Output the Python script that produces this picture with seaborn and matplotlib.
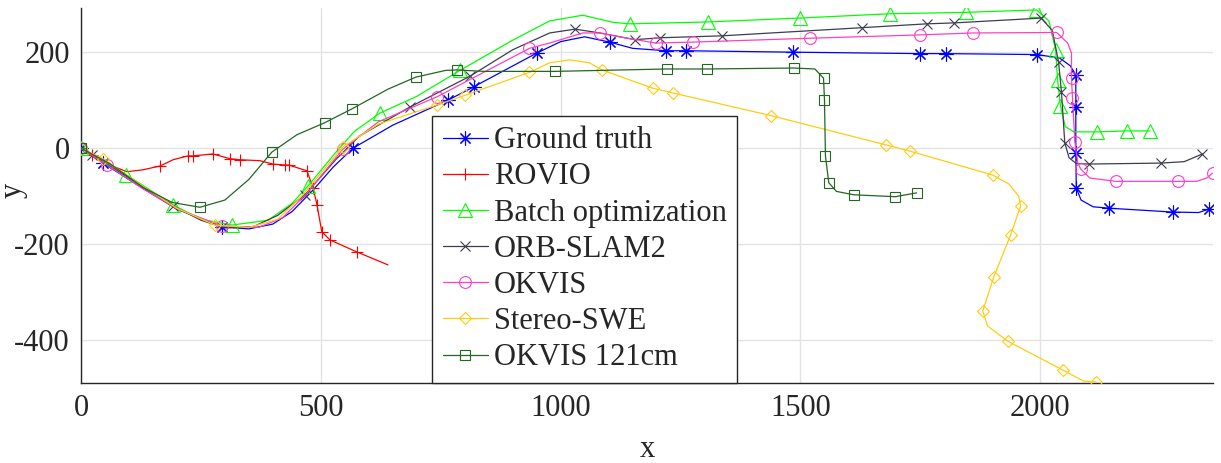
"""
Trajectory comparison (top view)
"""

import numpy as np
import pandas as pd
import matplotlib
matplotlib.use("Agg")
import matplotlib.pyplot as plt
import seaborn as sns

# path vertices (x, y) and indices of vertices that carry a marker
gt_x = [0, 46, 120, 200, 294, 350, 400, 440, 484, 526, 567, 650, 765, 819, 950, 1000, 1050, 1102, 1150, 1219, 1261,
        1484, 1749, 1803, 1993, 2040, 2062, 2074, 2074, 2074, 2075, 2085, 2110, 2144, 2276, 2330, 2351]
gt_y = [0, -31, -78, -127, -164, -168, -158, -132, -87, -39, 0, 48, 100, 128, 198, 222, 232, 221, 208, 203, 203,
        200, 197, 197, 195, 188, 172, 153, 86, -10, -83, -108, -122, -125, -133, -134, -127]
gt_mk = [0, 1, 4, 10, 12, 13, 14, 17, 19, 20, 21, 22, 23, 24, 27, 28, 29, 30, 33, 34, 36]

rovio_x = [0, 23, 60, 96, 129, 165, 192, 223, 233, 275, 311, 331, 373, 400, 425, 433, 471, 484, 492, 502, 519,
           575, 640]
rovio_y = [0, -14, -35, -49, -45, -37, -24, -16, -16, -12, -22, -24, -26, -33, -35, -35, -47, -83, -118, -174, -191,
           -216, -243]
rovio_mk = [1, 5, 7, 8, 9, 10, 11, 13, 14, 15, 16, 17, 18, 19, 20, 21]

batch_x = [0, 94, 192, 250, 315, 390, 440, 473, 530, 570, 623, 700, 790, 900, 977, 1046, 1110, 1144, 1307, 1498,
           1686, 1846, 1992, 2018, 2032, 2036, 2042, 2052, 2070, 2119, 2180, 2228]
batch_y = [0, -55, -118, -148, -160, -150, -115, -79, -10, 35, 73, 108, 162, 225, 265, 277, 262, 259, 263, 271,
           280, 283, 288, 265, 204, 142, 88, 45, 34, 34, 36, 36]
batch_mk = [0, 1, 2, 4, 7, 10, 12, 17, 18, 19, 20, 21, 22, 24, 25, 26, 29, 30, 31]

orb_x = [0, 23, 100, 192, 250, 300, 360, 410, 467, 530, 580, 686, 811, 900, 977, 1030, 1082, 1155, 1207, 1336,
         1628, 1763, 1821, 2002, 2025, 2038, 2044, 2051, 2060, 2075, 2101, 2251, 2300, 2338]
orb_y = [0, -14, -62, -120, -150, -166, -163, -140, -97, -25, 25, 86, 150, 205, 240, 248, 240, 226, 230, 234,
         251, 259, 261, 271, 245, 180, 118, 11, -20, -32, -33, -31, -28, -12]
orb_mk = [0, 1, 3, 8, 11, 12, 15, 17, 18, 19, 20, 21, 22, 23, 25, 26, 27, 30, 31, 33]

okvis_x = [0, 54, 130, 200, 294, 370, 420, 470, 546, 620, 742, 935, 977, 1046, 1082, 1117, 1198, 1276, 1519,
           1749, 1859, 2034, 2057, 2065, 2065, 2067, 2072, 2078, 2084, 2103, 2157, 2286, 2326, 2347, 2359]
okvis_y = [0, -35, -85, -126, -162, -165, -145, -95, -2, 55, 107, 208, 219, 240, 240, 233, 219, 221, 229,
           236, 240, 241, 219, 198, 146, 105, 13, -30, -43, -62, -69, -69, -69, -62, -52]
okvis_mk = [0, 1, 4, 8, 10, 11, 14, 16, 17, 18, 19, 20, 21, 24, 25, 26, 28, 30, 31, 34]

swe_x = [0, 46, 130, 200, 279, 350, 410, 460, 546, 620, 742, 800, 935, 977, 1019, 1060, 1086, 1192, 1234, 1438,
         1678, 1728, 1901, 1935, 1955, 1959, 1938, 1903, 1880, 1890, 1932, 2047, 2090, 2117]
swe_y = [0, -22, -80, -125, -160, -165, -148, -100, 3, 50, 90, 110, 158, 178, 184, 178, 163, 125, 115, 68,
         7, -6, -56, -75, -100, -120, -181, -268, -339, -370, -402, -462, -485, -487]
swe_mk = [0, 1, 4, 8, 10, 11, 12, 16, 17, 18, 19, 20, 21, 22, 25, 26, 27, 28, 30, 31, 33]

ok121_x = [0, 60, 130, 190, 248, 300, 350, 398, 450, 508, 565, 640, 698, 760, 784, 840, 988, 1221, 1305, 1486,
           1530, 1548, 1550, 1552, 1559, 1575, 1611, 1698, 1742]
ok121_y = [0, -32, -82, -113, -123, -108, -65, -8, 28, 53, 82, 123, 148, 162, 163, 160, 160, 165, 165, 167,
           165, 146, 101, -16, -72, -90, -97, -101, -93]
ok121_mk = [0, 4, 7, 9, 10, 12, 14, 16, 17, 18, 19, 21, 22, 23, 24, 26, 27, 28]

series = [
    ("Ground truth", gt_x, gt_y, gt_mk, "#0000ff", (8, 2, 0), 10),
    ("ROVIO", rovio_x, rovio_y, rovio_mk, "#ff0000", "+", 8.5),
    ("Batch optimization", batch_x, batch_y, batch_mk, "#00ff00", "^", 9.5),
    ("ORB-SLAM2", orb_x, orb_y, orb_mk, "#3c3c52", "x", 7),
    ("OKVIS", okvis_x, okvis_y, okvis_mk, "#ff3fbf", "o", 8.5),
    ("Stereo-SWE", swe_x, swe_y, swe_mk, "#ffcc11", "D", 6.2),
    ("OKVIS 121cm", ok121_x, ok121_y, ok121_mk, "#226622", "s", 7.2),
]

sns.set_style("white")
plt.rcParams["font.family"] = ["Liberation Serif", "DejaVu Serif"]
plt.rcParams["axes.unicode_minus"] = False

fig = plt.figure(figsize=(12.21, 4.63), dpi=100)
ax = fig.add_axes([81 / 1221, 1 - 383 / 463, 1132 / 1221, 375 / 463])

for i, (label, xs, ys, mk, color, marker, ms) in enumerate(series):
    df = pd.DataFrame({"x": xs, "y": ys})
    sns.lineplot(data=df, x="x", y="y", sort=False, estimator=None, ax=ax,
                 color=color, lw=0.9, marker=marker, markevery=mk, ms=ms,
                 mfc="none", mec=color, mew=0.8, label=label, zorder=3 + i)

ax.set_xlim(0, 2360)
ax.set_ylim(-489, 292)
ax.set_xticks([0, 500, 1000, 1500, 2000])
ax.set_yticks([-400, -200, 0, 200])
ax.grid(True, color="#e3e3e3", lw=1.0)
ax.set_axisbelow(True)
for s in ["top", "right"]:
    ax.spines[s].set_visible(False)
for s in ["left", "bottom"]:
    ax.spines[s].set_color("#262626")
    ax.spines[s].set_linewidth(1.0)
ax.tick_params(direction="in", length=8.4, width=0.9, color="#262626",
               labelsize=22, pad=8, labelcolor="#262626")

ax.set_xlabel("x", fontsize=22, color="#262626")
ax.set_ylabel("y", fontsize=22, color="#262626")
ax.xaxis.set_label_coords(0.5, -0.138)
ax.yaxis.set_label_coords(-0.047, 0.515)

leg = ax.legend(loc="lower left", bbox_to_anchor=(0.310, 0.0), borderaxespad=0,
                fontsize=22, frameon=True, fancybox=False, framealpha=1,
                edgecolor="#262626", handlelength=1.47, handletextpad=0.2,
                borderpad=0.35, labelspacing=0.235)
leg.get_frame().set_linewidth(1.0)
leg.set_zorder(20)

fig.savefig("out.png", dpi=100)
plt.close(fig)
